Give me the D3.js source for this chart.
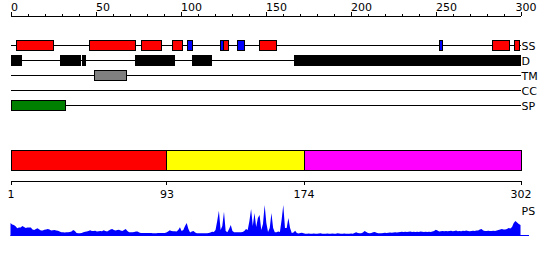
<!DOCTYPE html>
<html>
<head>
<meta charset="utf-8">
<script src="https://cdn.jsdelivr.net/npm/d3@7"></script>
<style>
  html, body { margin: 0; padding: 0; background: #fff; }
  svg { display: block; }
  text { font-family: "DejaVu Sans", sans-serif; font-size: 11px; fill: #000; }
</style>
</head>
<body>
<svg id="chart" width="550" height="260"></svg>
<script>
// ---- data ----
const topTicks = [0, 50, 100, 150, 200, 250, 300];
const minorTicks = d3.range(0, 301, 10);
const trackNames = ["SS", "D", "TM", "CC", "SP"];
const ssHelix = [[3, 25], [46, 73], [77, 89], [95, 101], [125, 128], [146, 156], [283, 293], [296, 299]];
const ssStrand = [[104, 107], [123, 125], [133, 137], [252, 254]];
const disorder = [[0, 6], [29, 41], [42, 44], [73, 96], [107, 118], [167, 300]];
const transmem = [[49, 68]];
const coiled = [];
const signalPep = [[0, 32]];
const domainStarts = [1, 93, 174];
const domainEnds = [93, 174, 302];
const domainColors = ["#ff0000", "#ffff00", "#ff00ff"];
const bottomTicks = [1, 93, 174, 302];
const psScores = [
  13, 11.5, 11, 9.7, 7.7, 8.5, 8.5, 10, 9, 8,
  8.5, 8.5, 8.5, 6.5, 6, 7, 7.7, 6.5, 5.5, 5.5,
  6.3, 6.5, 7, 6.5, 5.5, 5.7, 6, 5.5, 5.3, 4.5,
  3.7, 3.7, 3.5, 3.7, 3.7, 4, 4.5, 6, 5, 3,
  2.7, 2.7, 3, 3.7, 4.3, 4.5, 5, 5.7, 5, 5,
  5.3, 4.5, 4.7, 5, 4.7, 5.7, 5, 4.5, 5.5, 6.5,
  7, 6, 5.5, 6, 6.3, 5.5, 5, 6, 7, 5,
  3.7, 3.7, 3.7, 4, 4.5, 4.5, 3.5, 3, 3, 3,
  3, 3, 3, 3, 2.7, 2.7, 2.7, 3, 3, 3,
  3, 3, 3.5, 4.5, 5.7, 5, 4.7, 4.7, 4.5, 6,
  8.7, 5, 6, 10, 13, 7, 3.5, 4.5, 5, 3.5,
  2.7, 2.7, 2.7, 2.7, 2.7, 2.7, 2.7, 3, 3.5, 4.3,
  4, 6, 15, 25.3, 6, 10, 24.3, 5, 3.7, 7,
  11, 5, 3.7, 3.7, 3.7, 3.7, 3.7, 4, 5, 7,
  6, 15, 27, 10, 23, 9, 18, 21, 6, 12,
  31, 13, 4, 8, 23, 8, 3.7, 3.7, 4.5, 4,
  16, 31, 8, 8, 18, 8, 3, 3.5, 5.3, 3,
  2.5, 3, 3.3, 2.7, 2.3, 2.3, 2.5, 2.3, 2.3, 2.5,
  2.3, 2.3, 2.5, 2.7, 2.3, 2.3, 2.3, 2.5, 2.3, 2.3,
  2.5, 2.3, 2.3, 2.7, 2.5, 2.3, 2.3, 2.5, 2.3, 2.3,
  2.3, 2.5, 2.3, 3, 3.7, 3, 2.7, 2.7, 3.5, 5,
  4, 3, 2.7, 3, 3.7, 4, 3.3, 2.7, 2.7, 2.7,
  3, 3.3, 3, 3.3, 3.5, 3.3, 3.5, 3.7, 3.5, 3.7,
  4, 4.3, 4, 4.3, 4, 4.3, 4.5, 4, 4.3, 4,
  4.3, 4, 4.5, 4.3, 4, 4.3, 4, 4.3, 4, 4.5,
  5, 6.3, 5.5, 4.5, 4.7, 5, 4.7, 5, 4.7, 5,
  5.3, 4.7, 5, 5.5, 4.7, 5, 4.7, 5.3, 5, 5.5,
  5, 4.7, 5, 5.3, 5, 5.5, 5.5, 6.5, 7, 5.5,
  5, 5, 5.3, 5, 5, 5.3, 5, 5.5, 6, 6.5,
  7, 6.5, 6.5, 7, 8, 7.5, 9, 13, 15, 13.5,
  12, 11
];

// ---- drawing ----
const svg = d3.select("#chart");
const x = d3.scaleLinear().domain([0, 300]).range([10.5, 520.5]);
const xb = d3.scaleLinear().domain([1, 302]).range([10.5, 520.5]);

// top axis: minor ticks
const gMinor = svg.append("g").attr("transform", "translate(0,15.5)")
  .call(d3.axisTop(x).tickValues(minorTicks).tickSize(2).tickSizeOuter(0).tickFormat(""));
gMinor.select(".domain").remove();
// top axis: major ticks and labels
const gTop = svg.append("g").attr("transform", "translate(0,15.5)")
  .call(d3.axisTop(x).tickValues(topTicks).tickSize(4).tickSizeOuter(0).tickPadding(1).tickFormat(d3.format("d")));
gTop.selectAll("text").attr("text-anchor", "start").attr("dy", "0em").attr("dx", "0")
  .style("font-family", "DejaVu Sans").style("font-size", "11px")
  .filter((d, i, n) => i === n.length - 1).attr("dx", -5.5);
svg.selectAll("g path.domain, g line").attr("stroke", "#000").attr("shape-rendering", "crispEdges");
svg.selectAll("g").attr("font-family", null).attr("font-size", null);

// tracks
const trackY = d3.scalePoint().domain(trackNames).range([45, 105]);
const trackG = svg.append("g");
trackG.selectAll("line.track").data(trackNames).join("line")
  .attr("x1", x(0)).attr("x2", x(300))
  .attr("y1", d => trackY(d) + 0.5).attr("y2", d => trackY(d) + 0.5)
  .attr("stroke", "#000").attr("stroke-width", 1).attr("shape-rendering", "crispEdges");
trackG.selectAll("text.track").data(trackNames).join("text")
  .attr("x", x(300) + 1).attr("y", d => trackY(d) + 5)
  .text(d => d);

function boxes(data, track, fill, stroke) {
  trackG.append("g").selectAll("rect").data(data).join("rect")
    .attr("x", d => Math.round(x(d[0])) + 0.5)
    .attr("y", trackY(track) - 4.5)
    .attr("width", d => Math.max(1, Math.round(x(d[1]) - x(d[0]))))
    .attr("height", 10)
    .attr("fill", fill)
    .attr("stroke", stroke)
    .attr("stroke-width", 1)
    .attr("shape-rendering", "crispEdges");
}
boxes(ssHelix, "SS", "#ff0000", "#000");
boxes(ssStrand, "SS", "#0000ff", "#000");
boxes(disorder, "D", "#000", "#000");
boxes(transmem, "TM", "#808080", "#000");
boxes(coiled, "CC", "#ffa500", "#000");
boxes(signalPep, "SP", "#008000", "#000");

// domain bar
svg.append("g").selectAll("rect").data(domainStarts).join("rect")
  .attr("x", d => Math.round(xb(d)) + 0.5)
  .attr("y", 150.5)
  .attr("width", (d, i) => Math.round(xb(domainEnds[i])) - Math.round(xb(d)))
  .attr("height", 20)
  .attr("fill", (d, i) => domainColors[i])
  .attr("stroke", "#000")
  .attr("shape-rendering", "crispEdges");

// bottom axis
const gBot = svg.append("g").attr("transform", "translate(0,180.5)")
  .call(d3.axisBottom(xb).tickValues(bottomTicks).tickSize(4).tickSizeOuter(0).tickPadding(6).tickFormat(d3.format("d")));
gBot.selectAll("line, path").attr("stroke", "#000").attr("shape-rendering", "crispEdges");
gBot.attr("font-family", null).attr("font-size", null);

// PS profile
const yP = d3.scaleLinear().domain([0, 32]).range([236, 204]);
const area = d3.area()
  .x((d, i) => xb(i + 1))
  .y0(yP(0))
  .y1(d => yP(d));
svg.append("path").datum(psScores)
  .attr("d", area)
  .attr("fill", "#0000ff");
svg.append("line")
  .attr("x1", xb(1)).attr("x2", xb(302) + 8.5)
  .attr("y1", 235.5).attr("y2", 235.5)
  .attr("stroke", "#0000ff").attr("stroke-width", 1);
svg.append("text").attr("x", xb(302) + 1).attr("y", 215).text("PS");
</script>
</body>
</html>
